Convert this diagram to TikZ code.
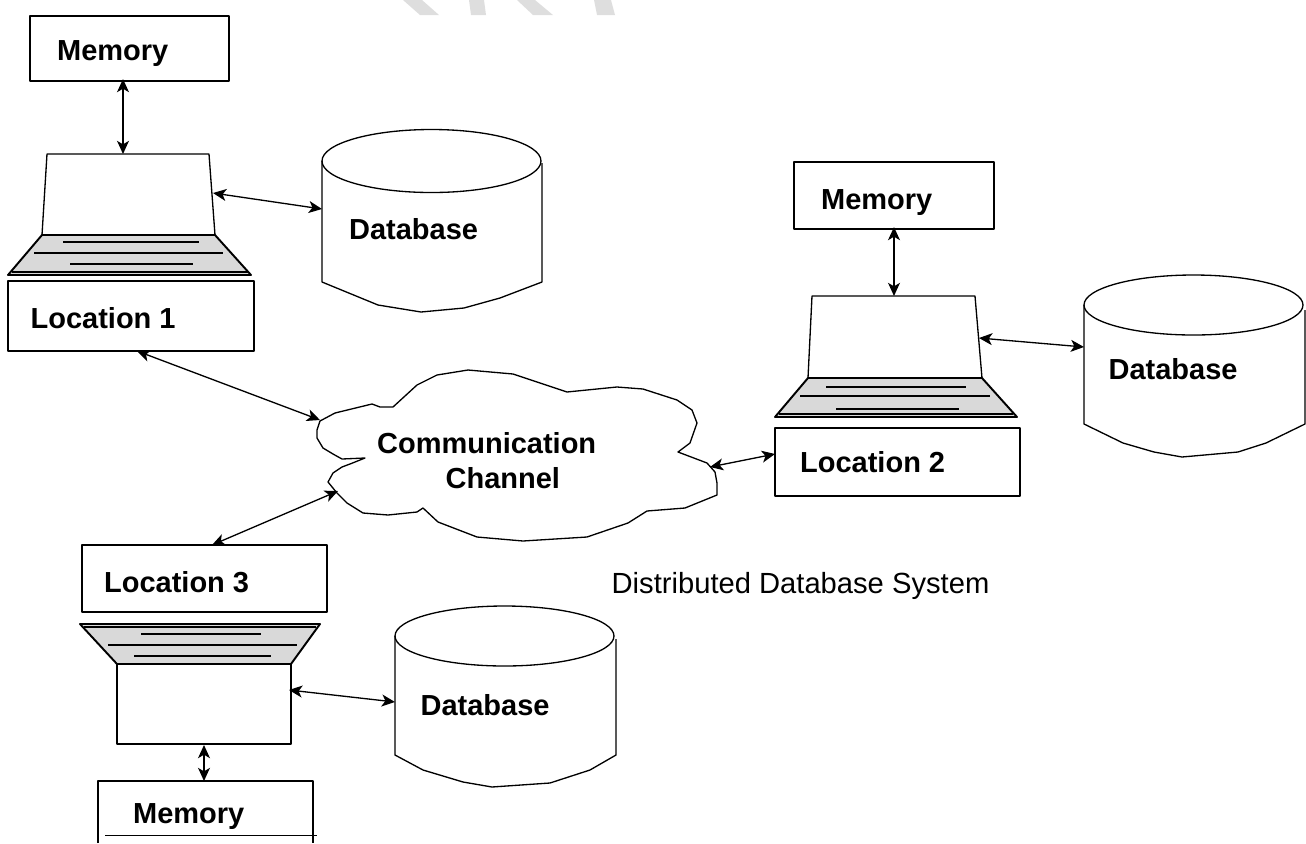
\documentclass[tikz,border=0pt]{standalone}
\usepackage{fontspec}
\setmainfont{Liberation Sans}
\usetikzlibrary{arrows.meta}

\begin{document}
\begin{tikzpicture}[x=0.02cm,y=-0.02cm,line width=0.75pt,line join=round,
				box node/.style = {rectangle,draw,inner sep = 0pt},
				txt node/.style = {anchor=base west,inner sep = 0pt,font=\fontsize{16.5}{18}\selectfont\bfseries},
				cap node/.style = {anchor=base west,inner sep = 0pt,font=\fontsize{16.6}{18}\selectfont},
				both/.style = {{Stealth[length=7.5pt,width=6.8pt,inset=2pt]}-{Stealth[length=7.5pt,width=6.8pt,inset=2pt]}},
				keys/.style = {draw,fill=black!15,line width=1.1pt},
				mark line/.style = {fill=black!13,draw=none}]
				
				\useasboundingbox (0,0) rectangle (1306,843);
				
				\fill[mark line] (403,0) -- (422,0) -- (439,15) -- (420,15) -- cycle;
				\fill[mark line] (469,0) -- (484,0) -- (486,15) -- (471,15) -- cycle;
				\fill[mark line] (517,0) -- (535,0) -- (553,15) -- (533,15) -- cycle;
				\fill[mark line] (594,0) -- (611,0) -- (615,15) -- (597,15) -- cycle;
				
				\node[box node,minimum width=3.98cm,minimum height=1.3cm] at (129.5,48.5) (mem1) {};
				\node[txt node] at (56.5,60) (mem1t) {Memory};
				\node[box node,minimum width=4.92cm,minimum height=1.4cm] at (131,316) (loc1) {};
				\node[txt node] at (30,328) (loc1t) {Location 1};
				\node[txt node] at (348.5,239) (db1t) {Database};
				
				\node[box node,minimum width=4cm,minimum height=1.34cm] at (894,195.5) (mem2) {};
				\node[txt node] at (820.5,209) (mem2t) {Memory};
				\node[box node,minimum width=4.9cm,minimum height=1.36cm] at (897.5,462) (loc2) {};
				\node[txt node] at (799.5,472) (loc2t) {Location 2};
				\node[txt node] at (1108,379) (db2t) {Database};
				
				\node[box node,minimum width=4.9cm,minimum height=1.34cm] at (204.5,578.5) (loc3) {};
				\node[txt node] at (103.5,592) (loc3t) {Location 3};
				\node[txt node] at (420,715) (db3t) {Database};
				\node[txt node] at (132.5,823) (mem3t) {Memory};
				
				\node[txt node] at (376.5,453) (cc1) {Communication};
				\node[txt node] at (445,488) (cc2) {Channel};
				\node[cap node] at (611,593) (cap) {Distributed Database System};
				
				\draw (47,154) -- (209,154) -- (215,235) -- (42,235) -- cycle;
				\draw[keys] (42,235) -- (215,235) -- (251,275) -- (8,275) -- cycle;
				\draw (12,272) -- (248,272);
				\draw (63,242) -- (199,242) (34,253) -- (223,253) (70,264) -- (193,264);
				
				\draw (812,296) -- (975,296) -- (982,378) -- (808,378) -- cycle;
				\draw[keys] (808,378) -- (982,378) -- (1017,417) -- (775,417) -- cycle;
				\draw (779,414) -- (1013,414);
				\draw (826,387) -- (966,387) (800,396) -- (990,396) (836,409) -- (959,409);
				
				\draw (117,664) rectangle (291,744);
				\draw[keys] (80,624) -- (320,624) -- (291,664) -- (117,664) -- cycle;
				\draw (84,627) -- (316,627);
				\draw (141,634) -- (261,634) (108,645) -- (297,645) (134,656) -- (271,656);
				
				\draw (98,843) -- (98,781) -- (313,781) -- (313,843);
				\draw[line width=0.4pt] (105,835) -- (317,835);
				
				\draw (431.5,161) ellipse (109.5 and 31.5);
				\draw (322,161) -- (322,282) -- (378,305) -- (421,312) -- (464,308) -- (500,298) -- (542,282) -- (542,163);
				
				\draw (1193.5,305) ellipse (109.5 and 30);
				\draw (1084,305) -- (1084,424) -- (1123,443) -- (1154,452) -- (1182,457) -- (1238,452) -- (1266,443) -- (1305,424) -- (1305,310);
				
				\draw (504.5,636) ellipse (109.5 and 30);
				\draw (395,636) -- (395,755) -- (423,770) -- (463,782) -- (492,787) -- (550,783) -- (590,770) -- (616,755) -- (616,639);
				
				\draw (320,421) -- (317,430) -- (317,438) -- (323,448) -- (333,454) -- (342,459) -- (365,458) -- (350,464) -- (342,467) -- (333,473) -- (328,482) -- (337,493) -- (347,503) -- (363,513) -- (388,515) -- (417,512) -- (423,508) -- (438,522) -- (477,537) -- (523,541) -- (587,537) -- (628,523) -- (647,511) -- (685,508) -- (717,495) -- (717,483) -- (715,472) -- (707,463) -- (678,452) -- (690,443) -- (697,423) -- (692,410) -- (677,400) -- (643,389) -- (617,387) -- (567,392) -- (513,374) -- (468,370) -- (437,375) -- (417,385) -- (393,407) -- (380,407) -- (372,404) -- (335,413) -- cycle;
				
				\coordinate (mem1a) at (123,79);
				\coordinate (lap1a) at (123,154);
				\coordinate (lap1b) at (213,193);
				\coordinate (db1a) at (322,209);
				\coordinate (loc1a) at (137,351);
				\coordinate (ccl) at (320,420);
				\coordinate (ccb) at (338,491);
				\coordinate (ccr) at (710,467);
				\coordinate (loc2a) at (775,454);
				\coordinate (loc3a) at (212,545);
				\coordinate (mem2a) at (894,227);
				\coordinate (lap2a) at (894,296);
				\coordinate (lap2b) at (979,338);
				\coordinate (db2a) at (1084,347);
				\coordinate (lap3a) at (204,745);
				\coordinate (lap3b) at (289,690);
				\coordinate (db3a) at (395,702);
				\coordinate (mem3a) at (204,781);
				
				\path[both]
				(mem1a) edge (lap1a)
				(lap1b) edge (db1a)
				(loc1a) edge (ccl)
				(ccr) edge (loc2a)
				(loc3a) edge (ccb)
				(mem2a) edge (lap2a)
				(lap2b) edge (db2a)
				(lap3a) edge (mem3a)
				(lap3b) edge (db3a);
				\end{tikzpicture}
\end{document}
